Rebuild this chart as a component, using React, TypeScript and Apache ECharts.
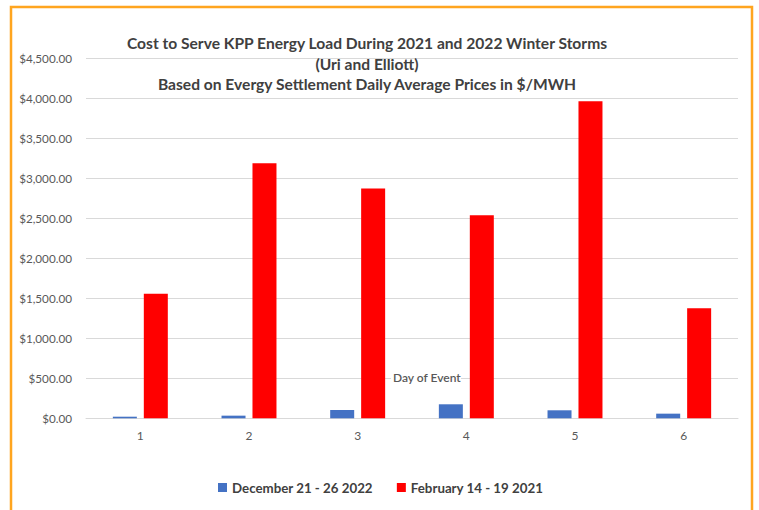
import React, { useEffect, useRef } from "react";
import * as echarts from "echarts";

const categories = ["1", "2", "3", "4", "5", "6"];
const dec2022 = [20, 33, 104, 175, 100, 58];
const feb2021 = [1555, 3185, 2870, 2535, 3960, 1375];
const seriesNames = ["December 21 - 26 2022", "February 14 - 19 2021"];
const titleLines = [
  "Cost to Serve KPP Energy Load During 2021 and 2022 Winter Storms",
  "(Uri and Elliott)",
  "Based on Evergy Settlement Daily Average Prices in $/MWH",
];

const FONT = "Lato, 'Open Sans', sans-serif";

export default function App() {
  const ref = useRef<HTMLDivElement>(null);
  useEffect(() => {
    if (!ref.current) return;
    const chart = echarts.init(ref.current, null, { renderer: "svg" });
    chart.setOption({
      animation: false,
      backgroundColor: "#ffffff",
      textStyle: { fontFamily: FONT },
      title: {
        text: titleLines.join("\n"),
        left: 362,
        top: 28,
        textAlign: "center",
        textStyle: {
          fontSize: 15.6,
          fontWeight: "bold",
          color: "#404040",
          lineHeight: 20.5,
          fontFamily: FONT,
        },
      },
      legend: {
        data: seriesNames,
        left: 213,
        top: 476,
        itemWidth: 9,
        itemHeight: 9,
        itemGap: 24,
        icon: "rect",
        textStyle: { fontSize: 13.3, fontWeight: "bold", color: "#404040", fontFamily: FONT },
      },
      grid: { left: 86, right: 21, top: 58, bottom: 91.7 },
      xAxis: {
        type: "category",
        data: categories,
        axisLine: { lineStyle: { color: "#d9d9d9" } },
        axisTick: { show: false },
        axisLabel: { color: "#595959", fontSize: 12, margin: 11, fontFamily: FONT },
      },
      yAxis: {
        type: "value",
        min: 0,
        max: 4500,
        interval: 500,
        axisLine: { show: false },
        axisTick: { show: false },
        splitLine: { lineStyle: { color: "#d9d9d9" } },
        axisLabel: {
          color: "#595959",
          fontSize: 11.7,
          margin: 14,
          fontFamily: FONT,
          formatter: (v: number) =>
            "$" + v.toLocaleString("en-US", { minimumFractionDigits: 2, maximumFractionDigits: 2 }),
        },
      },
      series: [
        {
          name: seriesNames[0],
          type: "bar",
          data: dec2022,
          barWidth: 24,
          barGap: "29%",
          itemStyle: { color: "#4472C4" },
        },
        {
          name: seriesNames[1],
          type: "bar",
          data: feb2021,
          barWidth: 24,
          itemStyle: { color: "#FF0000" },
        },
      ],
      graphic: [
        {
          type: "rect",
          shape: { x: 11, y: 7, width: 741, height: 520 },
          style: { fill: "none", stroke: "#FFA51F", lineWidth: 2.5 },
          silent: true,
        },
        {
          type: "rect",
          shape: { x: 391, y: 372, width: 70, height: 13 },
          style: { fill: "#ffffff" },
          silent: true,
          z: 50,
        },
        {
          type: "text",
          x: 393,
          y: 371,
          z: 51,
          style: {
            text: "Day of Event",
            fontSize: 12,
            fontWeight: 600,
            fill: "#595959",
            fontFamily: FONT,
          },
        },
      ],
    });
    return () => chart.dispose();
  }, []);
  return (
    <div
      ref={ref}
      style={{ position: "absolute", left: 0, top: 0, width: 759, height: 510 }}
    />
  );
}
